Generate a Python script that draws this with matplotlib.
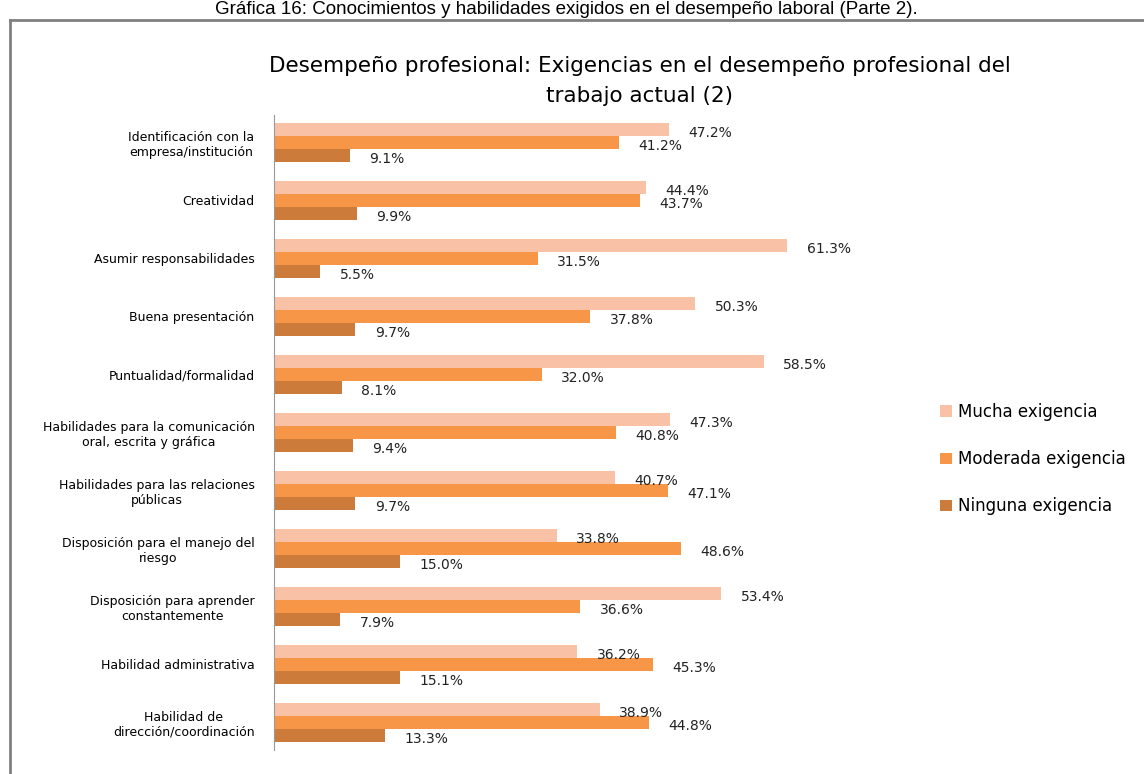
import numpy as np
import matplotlib
matplotlib.use("Agg")
import matplotlib.pyplot as plt
from matplotlib.lines import Line2D
from matplotlib.patches import Patch

categories = [
    "Identificación con la\nempresa/institución",
    "Creatividad",
    "Asumir responsabilidades",
    "Buena presentación",
    "Puntualidad/formalidad",
    "Habilidades para la comunicación\noral, escrita y gráfica",
    "Habilidades para las relaciones\npúblicas",
    "Disposición para el manejo del\nriesgo",
    "Disposición para aprender\nconstantemente",
    "Habilidad administrativa",
    "Habilidad de\ndirección/coordinación",
]
mucha = [47.2, 44.4, 61.3, 50.3, 58.5, 47.3, 40.7, 33.8, 53.4, 36.2, 38.9]
moderada = [41.2, 43.7, 31.5, 37.8, 32.0, 40.8, 47.1, 48.6, 36.6, 45.3, 44.8]
ninguna = [9.1, 9.9, 5.5, 9.7, 8.1, 9.4, 9.7, 15.0, 7.9, 15.1, 13.3]
series_names = ["Mucha exigencia", "Moderada exigencia", "Ninguna exigencia"]
colors = ["#F9C2A6", "#F79646", "#CD7B3A"]

W, H = 1144, 774
fig = plt.figure(figsize=(W / 100, H / 100), dpi=100)

# page caption above the framed chart
fig.text(566 / W, 1 - 1 / H, "Gráfica 16: Conocimientos y habilidades exigidos en el desempeño laboral (Parte 2).",
         ha="center", va="top", fontsize=13.5, family="Liberation Sans")
frame_y = 1 - 20 / H
fig.add_artist(Line2D([10 / W, 10 / W], [0, frame_y], color="#808080", lw=2))
fig.add_artist(Line2D([10 / W, 1], [frame_y, frame_y], color="#808080", lw=2))

fig.text(640 / W, 1 - 81 / H,
         "Desempeño profesional: Exigencias en el desempeño profesional del\ntrabajo actual (2)",
         ha="center", va="center", fontsize=15.5, linespacing=1.6)

ax = fig.add_axes([274 / W, 1 - 750 / H, 586 / W, 635 / H])
y = np.arange(len(categories))
h = 0.224
for i, (vals, col) in enumerate(zip([mucha, moderada, ninguna], colors)):
    pos = y + (i - 1) * h
    ax.barh(pos, vals, height=h, color=col, label=series_names[i])
    for p, v in zip(pos, vals):
        ax.annotate(f"{v:.1f}%", (v, p), xytext=(14, -3), textcoords="offset points",
                    ha="left", va="center", fontsize=10, color="#222222")

ax.set_xlim(0, 70)
ax.set_ylim(10.48, -0.47)
ax.set_xticks([])
ax.set_yticks(y)
ax.set_yticklabels(categories, fontsize=9)
for t in ax.get_yticklabels():
    t.set_multialignment("center")
ax.tick_params(axis="y", length=0, pad=14)
for s in ["top", "right", "bottom"]:
    ax.spines[s].set_visible(False)
ax.spines["left"].set_color("#999999")

handles = [Patch(facecolor=c, edgecolor="none") for c in colors]
fig.legend(handles, series_names, loc="upper left", bbox_to_anchor=(925 / W, 1 - 388 / H),
           frameon=False, prop={"size": 12},
           handlelength=0.7, handleheight=0.7, handletextpad=0.4, labelspacing=1.75)

fig.savefig("out.png", dpi=100)
